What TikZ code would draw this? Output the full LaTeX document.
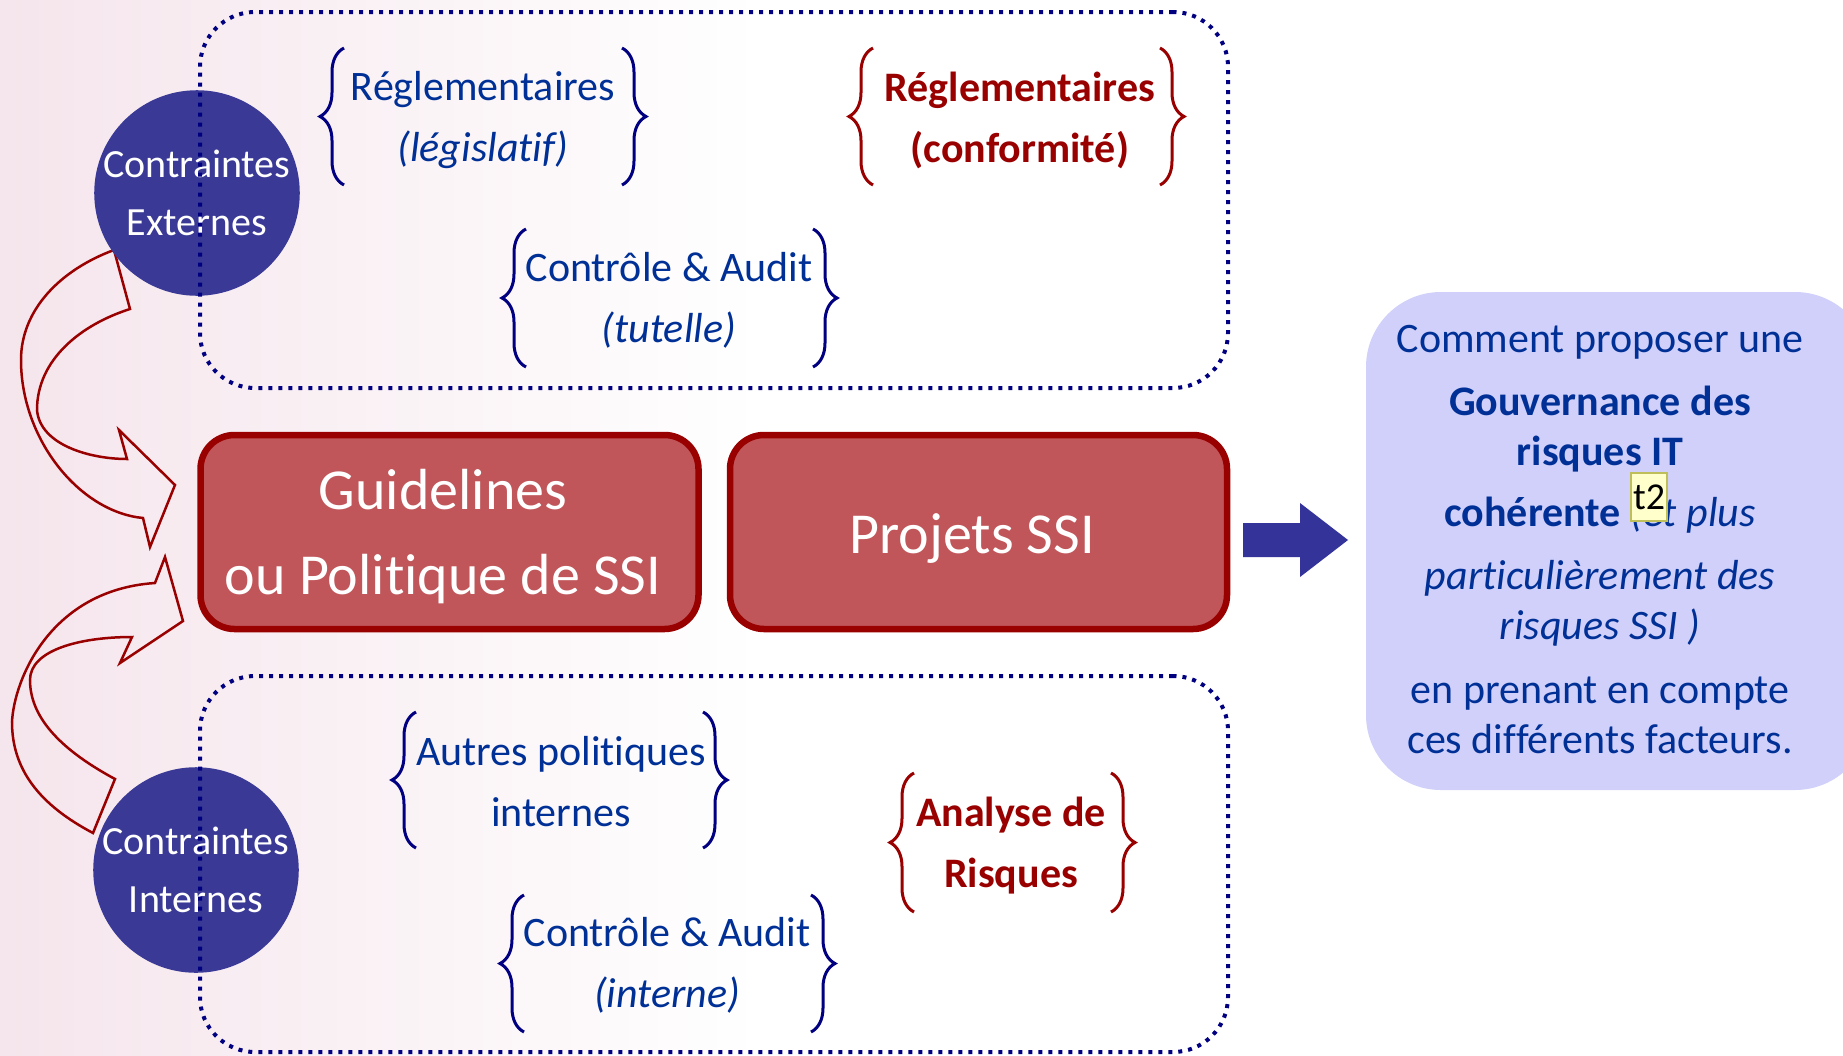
\documentclass[tikz,border=0pt]{standalone}
\usepackage{fontspec}
\setmainfont{Carlito}[Ligatures=NoCommon]
\usetikzlibrary{decorations.pathreplacing}
\definecolor{txtblue}{RGB}{0,48,150}
\definecolor{navyb}{RGB}{0,0,128}
\definecolor{dred}{RGB}{153,0,0}
\definecolor{circfill}{RGB}{58,58,150}
\definecolor{boxred}{RGB}{192,86,90}
\definecolor{lav}{RGB}{208,208,250}
\definecolor{arrblue}{RGB}{51,51,153}
\definecolor{bgpink}{RGB}{245,229,236}
\definecolor{notey}{RGB}{255,255,204}
\definecolor{noteb}{RGB}{190,190,90}
\tikzset{
  dotbox/.style={draw=navyb, line width=4pt, dash pattern=on 4pt off 6pt, rounded corners=55pt, inner sep=0pt},
  circnode/.style={circle, fill=circfill, minimum size=203pt, inner sep=0pt, text=white, align=center, font=\fontsize{40}{58}\selectfont},
  redbox/.style={draw=dred, line width=6.5pt, fill=boxred, rounded corners=34pt, inner sep=0pt},
  redboxtxt/.style={text=white, align=center, font=\fontsize{58}{85}\selectfont, inner sep=0pt},
  bluetxt/.style={text=txtblue, align=center, font=\fontsize{42}{61}\selectfont, inner sep=0pt},
  redtxt/.style={text=dred, align=center, font=\fontsize{42}{61}\selectfont\bfseries, inner sep=0pt},
  bbrace/.style={draw=navyb, line width=3pt, decorate, decoration={brace, amplitude=24pt}},
  rbrace/.style={draw=dred, line width=3pt, decorate, decoration={brace, amplitude=24pt}},
  curvarr/.style={draw=dred, line width=2.5pt, line join=miter},
  rbox/.style={fill=lav, rounded corners=75pt, inner sep=0pt, minimum width=504pt, minimum height=498pt},
  qtxt/.style={text=txtblue, align=center, font=\fontsize{42}{50}\selectfont, inner sep=0pt},
  notebox/.style={draw=noteb, fill=notey, line width=1.2pt, inner sep=0pt, minimum width=36pt, minimum height=48pt, font=\fontsize{38}{38}\selectfont}
}
\begin{document}
\begin{tikzpicture}[x=1pt,y=-1pt]
\useasboundingbox (0,0) rectangle (1843,1055);
\clip (0,0) rectangle (1843,1055);
\fill[white] (0,0) rectangle (1843,1055);
\shade[left color=bgpink, right color=white] (0,0) rectangle (760,1055);

% curved arrows
\draw[curvarr] (114,250) .. controls (60,270) and (21,310) .. (21,360) .. controls (21,440) and (80,512) .. (143,518) -- (150,547) -- (175,485) -- (119,430) -- (127,459) .. controls (90,459) and (40,445) .. (37,410) .. controls (37,360) and (80,325) .. (130,309) -- cycle;
\draw[curvarr] (93,833) .. controls (40,805) and (12,770) .. (12,722) .. controls (14,680) and (50,590) .. (155,583) -- (165,557) -- (183,621) -- (120,663) -- (132,637) .. controls (80,637) and (30,650) .. (30,680) .. controls (30,720) and (65,752) .. (115,779) -- cycle;

% circles
\node[circnode] (ext) at (197,193) {Contraintes\\Externes};
\node[circnode] (int) at (196,870) {Contraintes\\Internes};

% dotted boxes
\node[dotbox, minimum width=1028pt, minimum height=376pt] (topbox) at (714,200) {};
\node[dotbox, minimum width=1028pt, minimum height=376pt] (botbox) at (714,864) {};

% red boxes
\node[redbox, minimum width=498pt, minimum height=194pt] (guide) at (449.5,532) {};
\node[redboxtxt] (guidet) at (443,537) {Guidelines\\ou Politique de SSI};
\node[redbox, minimum width=497pt, minimum height=194pt] (proj) at (978.5,532) {};
\node[redboxtxt] (projt) at (972,539) {Projets SSI};

% top box texts
\node[bluetxt] (reg1) at (483,120) {Réglementaires\\\textit{(législatif)}};
\draw[bbrace] (344,185) -- (344,48);
\draw[bbrace] (622,48) -- (622,185);

\node[redtxt] (reg2) at (1020,120) {Réglementaires\\(conformité)};
\draw[rbrace] (873,185) -- (873,48);
\draw[rbrace] (1160,48) -- (1160,185);

\node[bluetxt] (ctl1) at (669,300) {Contrôle \& Audit\\\textit{(tutelle)}};
\draw[bbrace] (526,367) -- (526,229);
\draw[bbrace] (813,229) -- (813,367);

% bottom box texts
\node[bluetxt] (autres) at (561,782) {Autres politiques\\internes};
\draw[bbrace] (416,848) -- (416,712);
\draw[bbrace] (703,712) -- (703,848);

\node[bluetxt] (ctl2) at (667,965) {Contrôle \& Audit\\\textit{(interne)}};
\draw[bbrace] (524,1032) -- (524,895);
\draw[bbrace] (811,895) -- (811,1032);

\node[redtxt] (ana) at (1011,846) {Analyse de\\Risques};
\draw[rbrace] (914,912) -- (914,773);
\draw[rbrace] (1111,773) -- (1111,912);

% block arrow
\fill[arrblue] (1243,523) -- (1300,523) -- (1300,503) -- (1348,540) -- (1300,577) -- (1300,557) -- (1243,557) -- cycle;

% right box
\node[rbox] (q) at (1618,541) {};
\node[qtxt, anchor=north] (qt) at (1600,325) {Comment proposer une\\[13pt]
\textbf{Gouvernance des}\\
\textbf{risques IT}\\[11pt]
\textbf{cohérente} \textit{(et plus}\\[13pt]
\textit{particulièrement des}\\
\textit{risques SSI )}\\[14pt]
en prenant en compte\\
ces différents facteurs.};
\node[notebox] (t2) at (1649,497) {t2};
\end{tikzpicture}
\end{document}
